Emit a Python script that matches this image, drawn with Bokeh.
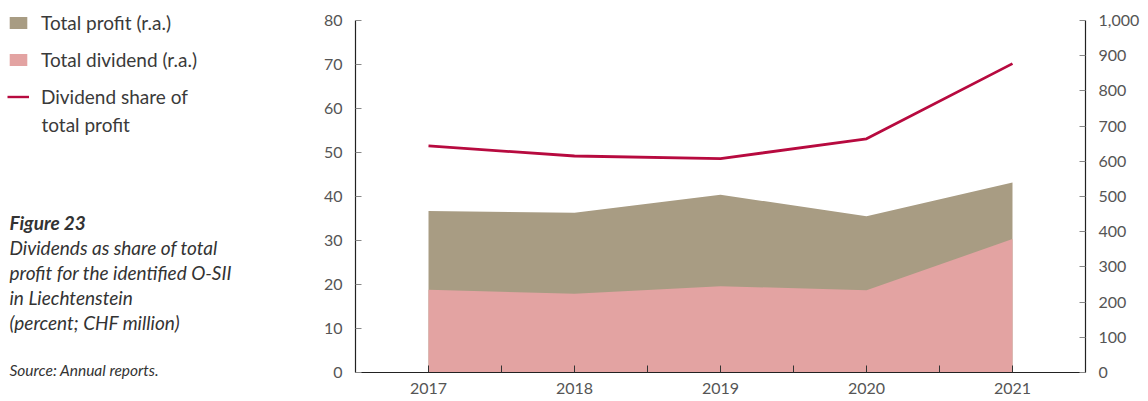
from bokeh.plotting import figure
from bokeh.layouts import row
from bokeh.models import (Range1d, LinearAxis, FixedTicker, NumeralTickFormatter,
                          Legend, LegendItem, Label, ColumnDataSource)
from bokeh.embed import file_html
from bokeh.resources import INLINE

# ---- data ----
years = [2017, 2018, 2019, 2020, 2021]
total_profit = [459, 454, 505, 444, 540]        # CHF million (right axis)
total_dividend = [235, 224, 245, 234, 379]      # CHF million (right axis)
dividend_share = [51.5, 49.2, 48.6, 53.1, 70.2] # percent (left axis)

left_ticks = list(range(0, 81, 10))
right_ticks = list(range(0, 1001, 100))
x_ticks = [2017, 2018, 2019, 2020, 2021]
x_minor = [2017.5, 2018.5, 2019.5, 2020.5]

legend_labels = ["Total profit (r.a.)", "Total dividend (r.a.)", "Dividend share of"]
legend_label_cont = "total profit"
caption_title = "Figure 23"
caption_lines = ["Dividends as share of total",
                 "profit for the identified O-SII",
                 "in Liechtenstein",
                 "(percent; CHF million)"]
source_text = "Source: Annual reports."

PROFIT = "#A89C83"
DIVIDEND = "#E3A3A2"
LINE = "#B70A3F"
FONT = "Lato"
LEFT_W = 300
H = 401

# ---------------- main chart ----------------
src = ColumnDataSource(dict(year=years, profit=total_profit,
                            dividend=total_dividend, share=dividend_share))

p = figure(width=1148 - LEFT_W, height=H, x_range=Range1d(2016.5, 2021.5),
           y_range=Range1d(0, 80), output_backend="svg", toolbar_location=None,
           min_border_left=55, min_border_right=63, min_border_top=20,
           min_border_bottom=29)
p.frame_align = False
p.extra_y_ranges = {"right": Range1d(0, 1000)}
p.xgrid.visible = False
p.ygrid.visible = False
p.outline_line_color = None
p.background_fill_color = "white"

r_profit = p.varea(x="year", y1=0, y2="profit", source=src, y_range_name="right",
                   fill_color=PROFIT, fill_alpha=1)
r_div = p.varea(x="year", y1=0, y2="dividend", source=src, y_range_name="right",
                fill_color=DIVIDEND, fill_alpha=1)
r_line = p.line(x="year", y="share", source=src, line_color=LINE, line_width=2.8)

xa = p.xaxis[0]
xa.ticker = FixedTicker(ticks=x_ticks, minor_ticks=x_minor)
xa.axis_line_color = "#222222"
xa.axis_line_width = 1.2
xa.major_tick_in = 7
xa.major_tick_out = 0
xa.minor_tick_in = 7
xa.minor_tick_out = 0
xa.major_tick_line_color = "#333333"
xa.minor_tick_line_color = "#333333"
xa.major_label_text_font = FONT
xa.major_label_text_font_size = "16px"
xa.major_label_text_color = "#555555"
xa.major_label_standoff = 10

ya = p.yaxis[0]
ya.ticker = FixedTicker(ticks=left_ticks)
ya.axis_line_color = "#222222"
ya.axis_line_width = 1.2
ya.major_tick_in = 6
ya.major_tick_out = 0
ya.minor_tick_line_color = None
ya.major_tick_line_color = "#888888"
ya.major_label_text_font = FONT
ya.major_label_text_font_size = "16px"
ya.major_label_text_color = "#555555"
ya.major_label_standoff = 13

ra = LinearAxis(y_range_name="right", ticker=FixedTicker(ticks=right_ticks),
                formatter=NumeralTickFormatter(format="0,0"))
ra.axis_line_color = "#222222"
ra.axis_line_width = 1.2
ra.major_tick_in = 6
ra.major_tick_out = 0
ra.minor_tick_line_color = None
ra.major_tick_line_color = "#888888"
ra.major_label_text_font = FONT
ra.major_label_text_font_size = "16px"
ra.major_label_text_color = "#555555"
ra.major_label_standoff = 13
p.add_layout(ra, "right")

# ---------------- left panel: legend + caption ----------------
q = figure(width=LEFT_W, height=H, x_range=Range1d(0, LEFT_W), y_range=Range1d(H, 0),
           output_backend="svg", toolbar_location=None,
           min_border_left=0, min_border_right=0, min_border_top=0, min_border_bottom=0)
q.frame_align = False
q.axis.visible = False
q.xgrid.visible = False
q.ygrid.visible = False
q.outline_line_color = None

# legend swatches take the style of the chart's series (off-screen stand-ins)
k_profit = q.varea(x=[-50], y1=[-50], y2=[-50], fill_color=PROFIT, fill_alpha=1)
k_div = q.varea(x=[-50], y1=[-50], y2=[-50], fill_color=DIVIDEND, fill_alpha=1)
k_line = q.line(x=[-50], y=[-50], line_color=LINE, line_width=2.4)

legend = Legend(items=[
    LegendItem(label=legend_labels[0], renderers=[k_profit]),
    LegendItem(label=legend_labels[1], renderers=[k_div]),
    LegendItem(label=legend_labels[2], renderers=[k_line]),
], location=(7, 293), orientation="vertical",
    glyph_width=22, glyph_height=15, label_standoff=12, spacing=14,
    padding=0, margin=0, border_line_alpha=0, background_fill_alpha=0,
    label_text_font=FONT, label_text_font_size="19px", label_text_color="#3a3a3a")
q.add_layout(legend)

def add_text(txt, xs, ys, size="19px", style="normal", color="#3a3a3a"):
    q.add_layout(Label(x=xs, y=ys, text=txt,
                       text_font=FONT, text_font_size=size, text_font_style=style,
                       text_color=color, text_baseline="middle", text_align="left"))

add_text(legend_label_cont, 41, 124, size="19px")
add_text(caption_title, 9, 222, style="bold italic", color="#333333")
for i, line in enumerate(caption_lines):
    add_text(line, 9, 247 + 25 * i, style="italic", color="#333333")
add_text(source_text, 9, 369, size="15.5px", style="italic", color="#333333")

layout = row(q, p)
open("out.html", "w").write(file_html(layout, INLINE))
